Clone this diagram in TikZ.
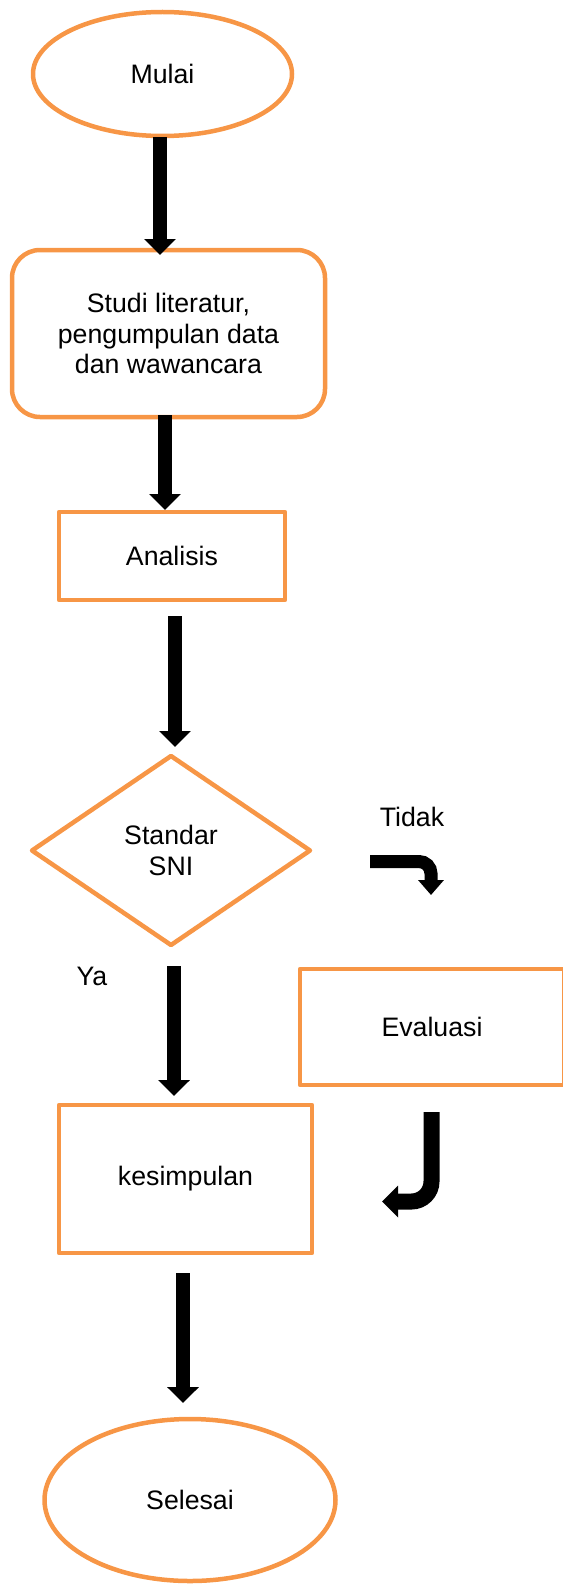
\documentclass[tikz,border=0pt]{standalone}
\usepackage{fontspec}
\setmainfont{Liberation Sans}
\usetikzlibrary{shapes.geometric,arrows.meta}
\definecolor{flowor}{HTML}{F79646}
\begin{document}
\begin{tikzpicture}[x=1pt,y=-1pt,
  box/.style={draw=flowor,line width=4.5pt,inner sep=0pt,outer sep=0pt,
    font=\fontsize{26.7}{30.5}\selectfont,align=center,line join=round},
  oval/.style={box,ellipse},
  stepbox/.style={box,rectangle},
  roundbox/.style={box,rectangle,rounded corners=28pt},
  decision/.style={box,diamond},
  flowarrow/.style={line width=13.5pt,-{Triangle[width=31pt,length=16pt]}},
  bentone/.style={line width=13pt,-{Triangle[width=25pt,length=15pt]}},
  benttwo/.style={line width=16pt,-{Triangle[width=31pt,length=16pt]}},
  lbl/.style={font=\fontsize{26.7}{30.5}\selectfont,inner sep=0pt}]
\useasboundingbox (0,0) rectangle (562,1584);

\node[oval,minimum width=259pt,minimum height=124pt] (mulai) at (162.5,74) {Mulai};
\node[roundbox,minimum width=313pt,minimum height=167pt] (studi) at (168.5,333.5)
  {Studi literatur,\\pengumpulan data\\dan wawancara};
\node[stepbox,minimum width=226pt,minimum height=88pt] (analisis) at (172,556) {Analisis};
\node[decision,minimum width=278pt,minimum height=189pt] (sni) at (171,850.5) {Standar\\SNI};
\node[stepbox,minimum width=264pt,minimum height=116pt] (evaluasi) at (432,1027) {Evaluasi};
\node[stepbox,minimum width=253pt,minimum height=148pt] (kesimpulan) at (185.5,1179) {kesimpulan};
\node[oval,minimum width=291pt,minimum height=162pt] (selesai) at (190,1500) {Selesai};

\node[lbl] (tidak) at (412,817) {Tidak};
\node[lbl] (ya) at (92,976) {Ya};

\draw[flowarrow] ([xshift=-2.5pt,yshift=-1pt]mulai.south) -- ([xshift=-8.5pt,yshift=-5pt]studi.north);
\draw[flowarrow] ([xshift=-3.5pt,yshift=2pt]studi.south) -- ([xshift=-7pt,yshift=2pt]analisis.north);
\draw[flowarrow] ([xshift=3pt,yshift=-16pt]analisis.south) -- ([xshift=4pt,yshift=9pt]sni.north);
\draw[flowarrow] ([xshift=3pt,yshift=-21pt]sni.south) -- ([xshift=-11.5pt,yshift=9pt]kesimpulan.north);
\draw[flowarrow] ([xshift=-2.5pt,yshift=-20pt]kesimpulan.south) -- ([xshift=-7pt,yshift=16pt]selesai.north);

\draw[bentone] ([xshift=60pt,yshift=-11pt]sni.east) [rounded corners=12pt] -| ([xshift=-1pt,yshift=74pt]evaluasi.north);
\draw[benttwo] ([xshift=-0.5pt,yshift=-27pt]evaluasi.south) [rounded corners=20pt] |- ([xshift=70pt,yshift=-22.5pt]kesimpulan.east);
\end{tikzpicture}
\end{document}
